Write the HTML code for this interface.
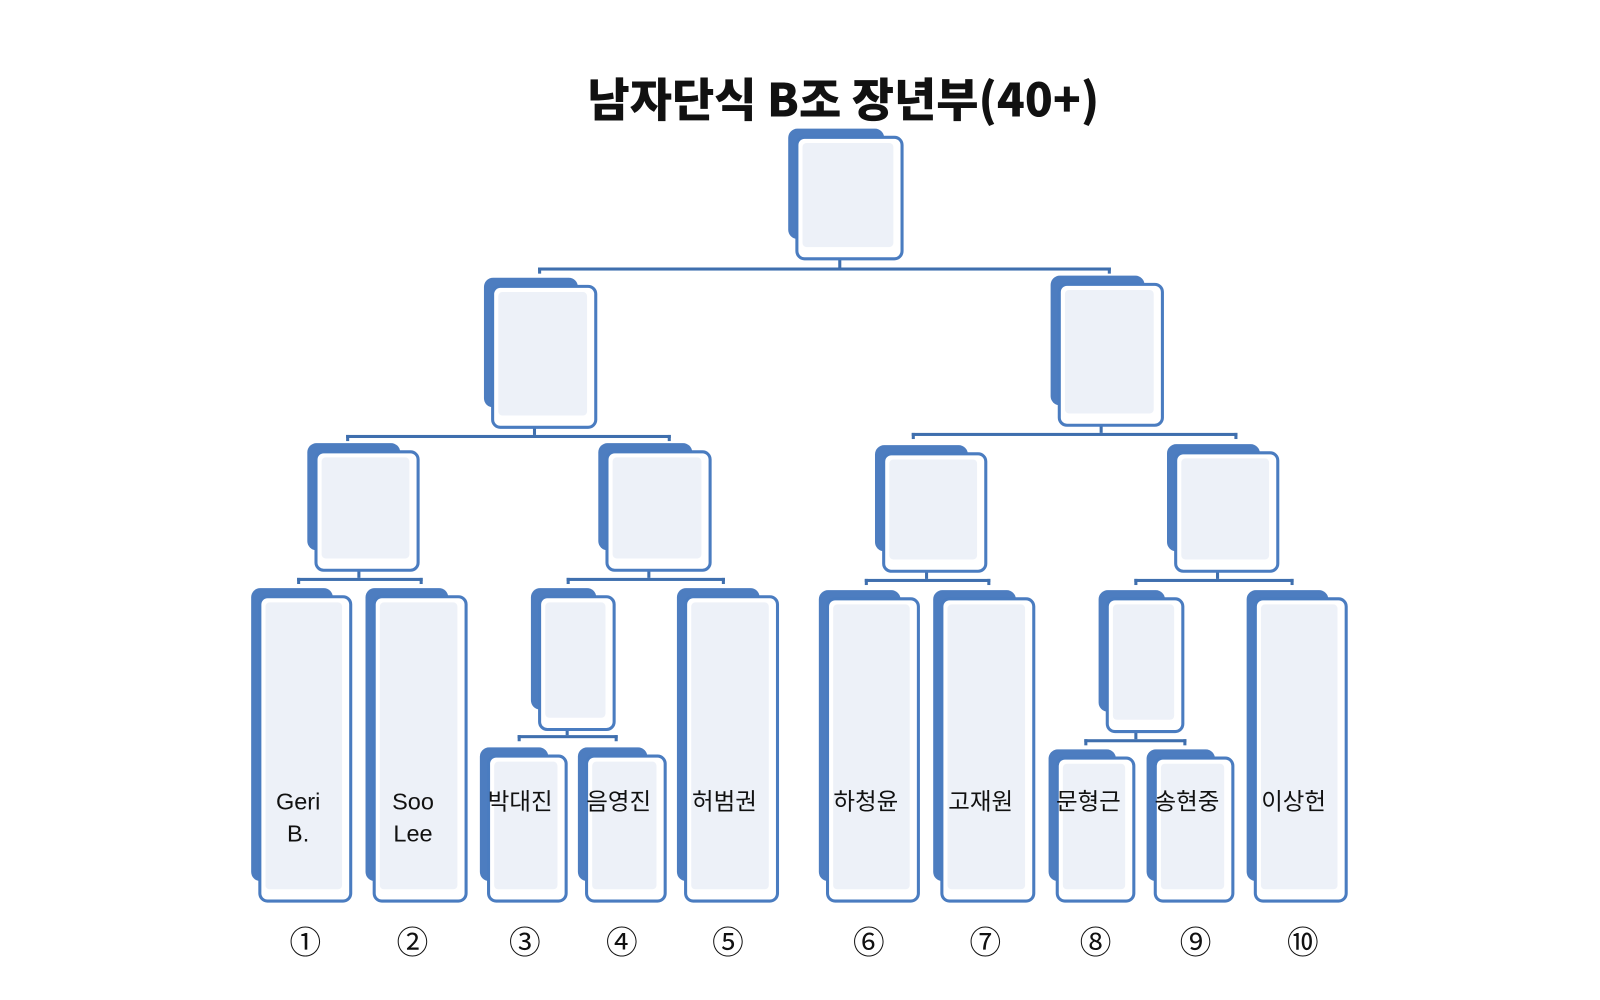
<!DOCTYPE html>
<html><head><meta charset="utf-8"><style>
html,body{margin:0;padding:0;background:#fff;width:1600px;height:1000px;overflow:hidden}
#w{position:absolute;left:0;top:0;width:1560px;height:975px;transform:scale(1.021);transform-origin:0 0}
.b{position:absolute}
.bk{position:absolute;background:#4d7dc0;border-radius:9px}
.fr{position:absolute;background:#fff;border:3px solid #4a7cc0;border-radius:9px;box-sizing:border-box}
.in{position:absolute;left:4px;top:4px;right:7px;bottom:10px;background:#edf1f8;border-radius:4px}
.h{position:absolute;background:#3f6fae;height:3px}
.v{position:absolute;background:#3f6fae;width:3px}
.t{position:absolute;font-family:"Liberation Sans","Noto Sans CJK KR",sans-serif;font-size:23px;color:#111;text-align:center;line-height:31px}
.n{position:absolute;font-family:"Noto Sans CJK KR","DejaVu Sans",sans-serif;font-size:31px;color:#111;text-align:center;width:40px}
</style></head><body><div id="w">
<div class="t" style="left:0;width:1652px;top:66px;font-size:45px;font-weight:900;line-height:58px;font-family:'Noto Sans CJK KR',sans-serif">남자단식 B조 장년부(40+)</div>
<div id="c"></div>
</div>
<script>
var W=document.getElementById('c');
function box(x1,x2,y1,y2){
 var w=x2-x1,h=y2-y1;
 W.insertAdjacentHTML('beforeend',
 '<div class="bk" style="left:'+(x1-7)+'px;top:'+(y1-7)+'px;width:'+(w-12)+'px;height:'+(h-14)+'px"></div>'+
 '<div class="fr" style="left:'+x1+'px;top:'+y1+'px;width:'+w+'px;height:'+h+'px"><div class="in"></div></div>');
}
function con(xa,xb,y,xc,yt){
 W.insertAdjacentHTML('beforeend','<div class="h" style="left:'+xa+'px;width:'+(xb-xa+3)+'px;top:'+y+'px"></div>'+
 '<div class="v" style="left:'+xa+'px;top:'+y+'px;height:6px"></div><div class="v" style="left:'+xb+'px;top:'+y+'px;height:6px"></div>'+
 '<div class="v" style="left:'+xc+'px;top:'+yt+'px;height:'+(y-yt)+'px"></div>');
}
con(527,1085,262,821,253);
con(339,654,426,522,418);
con(893,1209,424,1077,416);
con(291,411,566,350,558);
con(555,707,566,634,558);
con(847,967,567,906,559);
con(1111,1264,567,1191,559);
con(507,602,720,554,714);
con(1062,1159,724,1111,716);
box(779,885,133,255);
box(481,585,279,420);box(1036,1140,277,418);
box(308,411,441,560);box(593,697,441,560);box(864,967,443,561);box(1150,1253,442,561);
box(527,603,583,716);box(1083,1160,585,718);
var L=[[253,345,583,884,'Geri<br>B.'],[365,458,583,884,'Soo<br>Lee'],[477,556,739,884,'박대진'],[573,653,739,884,'음영진'],[670,763,583,884,'허범권'],[809,901,585,884,'하청윤'],[921,1014,585,884,'고재원'],[1034,1112,741,884,'문형근'],[1130,1209,741,884,'송현중'],[1228,1320,585,884,'이상헌']];
var N=['①','②','③','④','⑤','⑥','⑦','⑧','⑨','⑩'];
var NX=[299,404,514,609,713,851,965,1073,1171,1276];
L.forEach(function(a,i){
 box(a[0],a[1],a[2],a[3]);
 W.insertAdjacentHTML('beforeend','<div class="t" style="left:'+(a[0]-10)+'px;width:'+(a[1]-a[0]+6)+'px;top:770px">'+a[4]+'</div>');
 W.insertAdjacentHTML('beforeend','<div class="n" style="left:'+(NX[i]-20)+'px;top:898px">'+N[i]+'</div>');
});
</script>
</body></html>
